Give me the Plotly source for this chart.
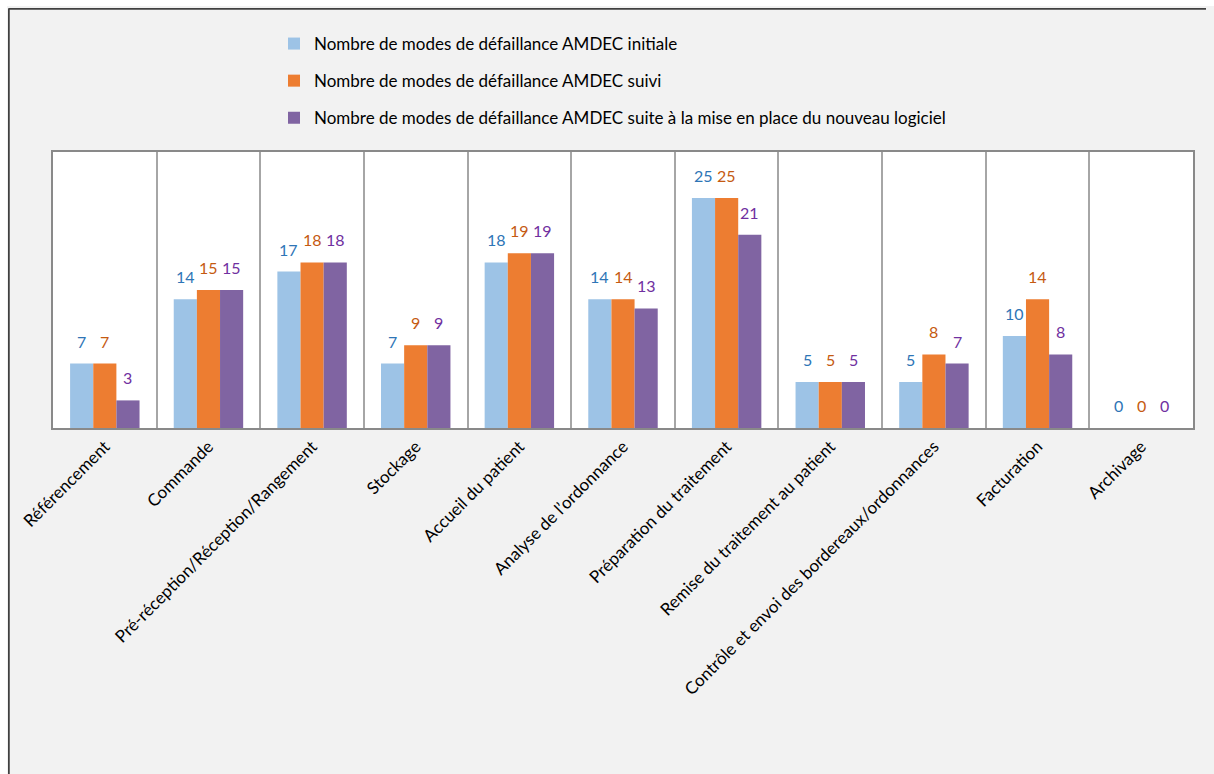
import plotly.graph_objects as go

categories = ["Référencement", "Commande", "Pré-réception/Réception/Rangement", "Stockage",
              "Accueil du patient", "Analyse de l’ordonnance", "Préparation du traitement",
              "Remise du traitement au patient", "Contrôle et envoi des bordereaux/ordonnances",
              "Facturation", "Archivage"]
initiale = [7, 14, 17, 7, 18, 14, 25, 5, 5, 10, 0]
suivi = [7, 15, 18, 9, 19, 14, 25, 5, 8, 14, 0]
nouveau = [3, 15, 18, 9, 19, 13, 21, 5, 7, 8, 0]
names = ["Nombre de modes de défaillance AMDEC initiale",
         "Nombre de modes de défaillance AMDEC suivi",
         "Nombre de modes de défaillance AMDEC suite à la mise en place du nouveau logiciel"]

fills = ["#9dc3e6", "#ed7d31", "#8064a2"]
label_cols = ["#2e75b6", "#c55a11", "#7030a0"]
FONT = "Lato, Carlito, 'Open Sans', sans-serif"

# page body has an 8px margin; figure runs past the right edge like the reference
W, H = 1214, 766
L, R, T, B = 45, 29, 144, 346
pw, ph = W - L - R, H - T - B
BARGAP = 0.33
bar_px = pw / len(categories) * (1 - BARGAP) / 3

fig = go.Figure()
series = [initiale, suivi, nouveau]
for i, (vals, nm) in enumerate(zip(series, names)):
    fig.add_trace(go.Bar(
        x=categories, y=vals, name=nm, legendgroup=f"g{i}",
        marker=dict(color=fills[i], line=dict(width=0)),
    ))
    for c, v in zip(categories, vals):
        fig.add_annotation(x=c, y=v, text=str(v), showarrow=False, yanchor="bottom",
                           xshift=(i - 1) * bar_px, yshift=11,
                           font=dict(color=label_cols[i], size=16, family=FONT))

fig.update_layout(
    width=W, height=H,
    margin=dict(l=L, r=R, t=T, b=B, autoexpand=False),
    paper_bgcolor="#f2f2f2", plot_bgcolor="white",
    barmode="group", bargap=BARGAP, bargroupgap=0,
    font=dict(family=FONT, size=17, color="black"),
    showlegend=True,
    legend=dict(x=(266 - L) / pw, y=1 + (T - 18) / ph, xanchor="left", yanchor="top",
                bgcolor="rgba(0,0,0,0)", font=dict(size=17, family=FONT),
                tracegroupgap=12, itemwidth=30),
    xaxis=dict(tickson="boundaries", showgrid=True, gridcolor="#a6a6a6", gridwidth=1.5,
               showline=True, linecolor="#898989", linewidth=2, mirror=True,
               tickangle=-45, ticks="", tickfont=dict(size=17, family=FONT, color="black")),
    yaxis=dict(range=[0, 30], showticklabels=False, showgrid=False, zeroline=False,
               showline=True, linecolor="#898989", linewidth=2, mirror=True, ticks=""),
)

# outer figure frame (left and top edges)
x0 = -L / pw + 0.5 / pw
ytop = 1 + (T - 0.5) / ph
fig.add_shape(type="line", xref="paper", yref="paper", x0=x0, x1=x0, y0=ytop, y1=-(B + 5) / ph,
              line=dict(color="#404040", width=2.5))
fig.add_shape(type="line", xref="paper", yref="paper", x0=x0, x1=1 + (R + 5) / pw, y0=ytop, y1=ytop,
              line=dict(color="#404040", width=2.5))

page_js = (
    "document.documentElement.style.overflow='hidden';"
    "document.body.style.overflow='hidden';"
    "document.documentElement.style.background="
    "'linear-gradient(to right, #ffffff 7px, rgba(0,0,0,0) 7px), "
    "linear-gradient(to bottom, #ffffff 6px, #f2f2f2 6px)';"
)
fig.write_html("out.html", post_script=page_js)
